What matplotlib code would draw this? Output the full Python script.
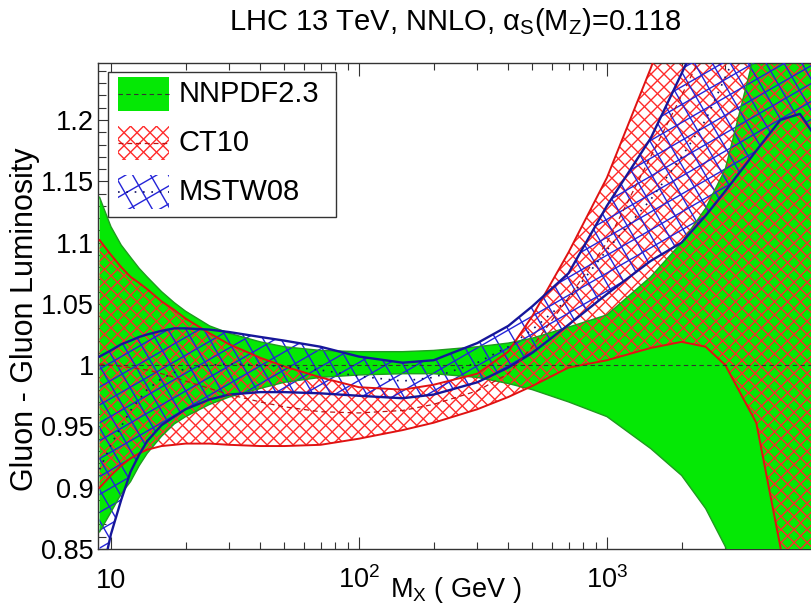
import numpy as np
import matplotlib
matplotlib.use('Agg')
import matplotlib.pyplot as plt
from matplotlib.collections import LineCollection
from matplotlib.patches import Rectangle
from matplotlib.ticker import FixedLocator, NullFormatter

plt.rcParams['font.family'] = ['Liberation Sans', 'DejaVu Sans']
plt.rcParams['mathtext.fontset'] = 'custom'
plt.rcParams['mathtext.rm'] = 'Liberation Sans'
plt.rcParams['mathtext.it'] = 'Liberation Sans:italic'
plt.rcParams['mathtext.default'] = 'regular'

# invariant mass of the gluon pair (GeV)
mass = np.array([9, 10, 11, 12, 13, 14, 16, 18, 20, 25, 30, 40, 50, 70, 100, 150,
                 200, 300, 400, 500, 700, 1000, 1500, 2000, 2500, 3000, 4000, 5000,
                 6000, 7000])

# luminosity ratios, normalised to NNPDF2.3
nnpdf_up = [1.137, 1.113, 1.098, 1.088, 1.079, 1.072, 1.060, 1.051, 1.044, 1.032, 1.026,
            1.019, 1.015, 1.012, 1.011, 1.011, 1.012, 1.015, 1.018, 1.022, 1.031,
            1.041, 1.072, 1.100, 1.128, 1.160, 1.260, 1.340, 1.400, 1.450]
nnpdf_lo = [0.864, 0.880, 0.895, 0.905, 0.918, 0.928, 0.942, 0.952, 0.958, 0.968, 0.974,
            0.981, 0.986, 0.990, 0.992, 0.993, 0.993, 0.990, 0.985, 0.980, 0.970,
            0.958, 0.932, 0.910, 0.883, 0.852, 0.780, 0.700, 0.620, 0.550]
nnpdf_c = np.ones(len(mass))  # ratio of the reference set to itself

ct10_up = [1.102, 1.090, 1.080, 1.072, 1.067, 1.062, 1.052, 1.045, 1.038, 1.026, 1.017,
           1.006, 0.999, 0.990, 0.982, 0.980, 0.984, 0.993, 1.011, 1.040, 1.092,
           1.153, 1.242, 1.310, 1.360, 1.420, 1.500, 1.580, 1.650, 1.720]
ct10_lo = [0.900, 0.910, 0.918, 0.924, 0.928, 0.931, 0.934, 0.935, 0.936, 0.936, 0.935,
           0.934, 0.934, 0.935, 0.940, 0.947, 0.953, 0.964, 0.974, 0.983, 0.998,
           1.004, 1.014, 1.019, 1.015, 1.000, 0.953, 0.852, 0.740, 0.620]
ct10_c = [1.001, 1.000, 0.999, 0.998, 0.997, 0.996, 0.993, 0.990, 0.987, 0.981, 0.976,
          0.970, 0.966, 0.962, 0.961, 0.963, 0.968, 0.979, 0.993, 1.015, 1.055,
          1.100, 1.170, 1.220, 1.260, 1.300, 1.360, 1.400, 1.430, 1.460]

mstw_up = [1.007, 1.012, 1.017, 1.020, 1.023, 1.025, 1.028, 1.030, 1.030, 1.029, 1.027,
           1.023, 1.020, 1.015, 1.007, 1.002, 1.004, 1.018, 1.032, 1.048, 1.075,
           1.130, 1.185, 1.238, 1.280, 1.330, 1.400, 1.460, 1.500, 1.550]
mstw_lo = [0.820, 0.862, 0.890, 0.913, 0.927, 0.938, 0.951, 0.958, 0.964, 0.972, 0.976,
           0.978, 0.978, 0.977, 0.975, 0.973, 0.976, 0.986, 0.998, 1.010, 1.033,
           1.058, 1.085, 1.100, 1.122, 1.142, 1.175, 1.200, 1.205, 1.185]
mstw_c = [0.915, 0.935, 0.950, 0.963, 0.972, 0.980, 0.989, 0.994, 0.997, 1.000, 1.001,
          1.000, 0.999, 0.996, 0.991, 0.987, 0.990, 1.002, 1.015, 1.029, 1.054,
          1.094, 1.135, 1.170, 1.200, 1.235, 1.290, 1.330, 1.350, 1.370]

labels = ['NNPDF2.3', 'CT10', 'MSTW08']
yticks = [0.85, 0.9, 0.95, 1.0, 1.05, 1.1, 1.15, 1.2]
ytick_labels = ['0.85', '0.9', '0.95', '1', '1.05', '1.1', '1.15', '1.2']
xticks = [10, 100, 1000]
xtick_labels = ['10', '$10^{2}$', '$10^{3}$']

GREEN = '#05e805'
GREEN_EDGE = '#1f9a1f'
RED = '#ff2a2a'
RED_EDGE = '#e01212'
BLUE = '#2424d8'
BLUE_EDGE = '#16169a'

W_PX, H_PX = 812, 604
AX_L, AX_R, AX_T, AX_B = 98, 812, 63, 549
AX_W, AX_H = AX_R - AX_L, AX_B - AX_T

fig = plt.figure(figsize=(W_PX / 100, H_PX / 100), dpi=100)
ax = fig.add_axes([AX_L / W_PX, 1 - AX_B / H_PX, AX_W / W_PX, AX_H / H_PX])


def hatch(clip_path, clip_trans, angles, spacing, color, lw, zorder):
    """Straight hatch lines at given angles (deg) and pixel spacing, clipped to a path."""
    segs = []
    diag = np.hypot(AX_W, AX_H)
    corners = np.array([[0, 0], [AX_W, 0], [0, AX_H], [AX_W, AX_H]])
    for ang in angles:
        t = np.radians(ang)
        d = np.array([np.cos(t), np.sin(t)])
        n = np.array([-np.sin(t), np.cos(t)])
        proj = corners @ n
        for c in np.arange(np.floor(proj.min() / spacing) * spacing, proj.max() + spacing, spacing):
            p0 = c * n - diag * d
            p1 = c * n + diag * d
            segs.append([(p0[0] / AX_W, p0[1] / AX_H), (p1[0] / AX_W, p1[1] / AX_H)])
    lc = LineCollection(segs, colors=color, linewidths=lw, transform=ax.transAxes, zorder=zorder)
    lc.set_clip_path(clip_path, clip_trans)
    ax.add_collection(lc, autolim=False)
    lc.set_clip_box(ax.bbox)
    return lc


RED_HATCH = dict(angles=[45, -45], spacing=9.2, color=RED, lw=1.0)
BLUE_HATCH = dict(angles=[30, -60], spacing=15.5, color=BLUE, lw=1.0)

# NNPDF2.3: solid band
ax.fill_between(mass, nnpdf_lo, nnpdf_up, facecolor=GREEN, edgecolor='none', zorder=1)

# CT10 and MSTW08: hatched bands
ct10_band = ax.fill_between(mass, ct10_lo, ct10_up, facecolor='none', edgecolor='none')
hatch(ct10_band.get_paths()[0], ct10_band.get_transform(), zorder=2, **RED_HATCH)
mstw_band = ax.fill_between(mass, mstw_lo, mstw_up, facecolor='none', edgecolor='none')
hatch(mstw_band.get_paths()[0], mstw_band.get_transform(), zorder=3, **BLUE_HATCH)

for y in (nnpdf_lo, nnpdf_up):
    ax.plot(mass, y, color=GREEN_EDGE, lw=1.0, zorder=4)
for y in (ct10_lo, ct10_up):
    ax.plot(mass, y, color=RED_EDGE, lw=1.4, zorder=4.1)
for y in (mstw_lo, mstw_up):
    ax.plot(mass, y, color=BLUE_EDGE, lw=1.7, zorder=4.2)

ax.plot(mass, nnpdf_c, color='#333333', lw=0.8, ls=(0, (4, 3)), zorder=5)
ax.plot(mass, ct10_c, color='#c01010', lw=0.9, ls=(0, (4, 3)), zorder=5)
ax.plot(mass, mstw_c, color='#101060', lw=1.2, ls=(0, (1, 4)), zorder=5)

ax.set_xscale('log')
ax.set_xlim(8.87, 6710)
ax.set_ylim(0.85, 1.2465)

ax.set_axisbelow(True)
for side in ('left', 'bottom'):
    ax.spines[side].set_zorder(0.6)
ax.spines['right'].set_visible(False)
for sp in ax.spines.values():
    sp.set_linewidth(1.0)
    sp.set_color('#333333')

ax.xaxis.set_major_locator(FixedLocator(xticks))
ax.xaxis.set_minor_locator(FixedLocator([m * 10 ** e for e in (1, 2, 3) for m in range(2, 10)
                                         if m * 10 ** e < 6710]))
ax.xaxis.set_major_formatter(NullFormatter())
ax.xaxis.set_minor_formatter(NullFormatter())
ax.set_yticks(yticks)
ax.set_yticklabels(ytick_labels, fontsize=19.5)
ax.yaxis.set_minor_locator(FixedLocator(np.arange(0.85, 1.245, 0.01)))
ax.tick_params(which='both', direction='in', top=True, right=False, color='#333333', width=0.8)
ax.tick_params(axis='x', which='major', length=9)
ax.tick_params(axis='x', which='minor', length=5)
ax.tick_params(axis='y', which='major', length=7, pad=3)
ax.tick_params(axis='y', which='minor', length=6)

# decade labels share one baseline
for xv, lab in zip(xticks, xtick_labels):
    ax.text(xv, (AX_B - 588) / AX_H, lab, transform=ax.get_xaxis_transform(),
            ha='center', va='baseline', fontsize=19.5)

fig.text(390 / W_PX, 1 - 597 / H_PX, 'M$_{X}$ ( GeV )', ha='left', va='baseline', fontsize=19.5)
fig.text(25 / W_PX, 1 - 319 / H_PX, 'Gluon - Gluon Luminosity', rotation=90,
         ha='center', va='center', fontsize=22)
fig.text(455 / W_PX, 1 - 22 / H_PX, r'LHC 13 TeV, NNLO, $\alpha_{S}(M_{Z})$=0.118',
         ha='center', va='center', fontsize=21)


# legend box
def afrac(px, py):
    return (px - AX_L) / AX_W, (AX_B - py) / AX_H


lx0, ly0 = afrac(108, 217)
lx1, ly1 = afrac(336, 72)
ax.add_patch(Rectangle((lx0, ly0), lx1 - lx0, ly1 - ly0, transform=ax.transAxes,
                       facecolor='white', edgecolor='#333333', lw=1.0, zorder=10))

rows = [94, 143, 192]
for i, (lab, yc) in enumerate(zip(labels, rows)):
    hx0, hy0 = afrac(118, yc + 17)
    hx1, hy1 = afrac(169, yc - 17)
    box = Rectangle((hx0, hy0), hx1 - hx0, hy1 - hy0, transform=ax.transAxes,
                    facecolor=GREEN if i == 0 else 'none', edgecolor='none', zorder=11)
    ax.add_patch(box)
    _, ym = afrac(0, yc)
    if i == 0:
        ax.plot([hx0, hx1], [ym, ym], transform=ax.transAxes, color='#333333', lw=0.8,
                ls=(0, (4, 3)), zorder=13)
    elif i == 1:
        hatch(box.get_path(), box.get_transform(), zorder=12, **RED_HATCH)
        ax.plot([hx0, hx1], [ym, ym], transform=ax.transAxes, color='#c01010', lw=0.9,
                ls=(0, (4, 3)), zorder=13)
    else:
        hatch(box.get_path(), box.get_transform(), zorder=12, **BLUE_HATCH)
        ax.plot([hx0, hx1], [ym, ym], transform=ax.transAxes, color='#101060', lw=1.2,
                ls=(0, (1, 4)), zorder=13)
    tx, _ = afrac(179, yc)
    ax.text(tx, ym, lab, transform=ax.transAxes, ha='left', va='center', fontsize=21, zorder=14)

fig.savefig('out.png', dpi=100)
